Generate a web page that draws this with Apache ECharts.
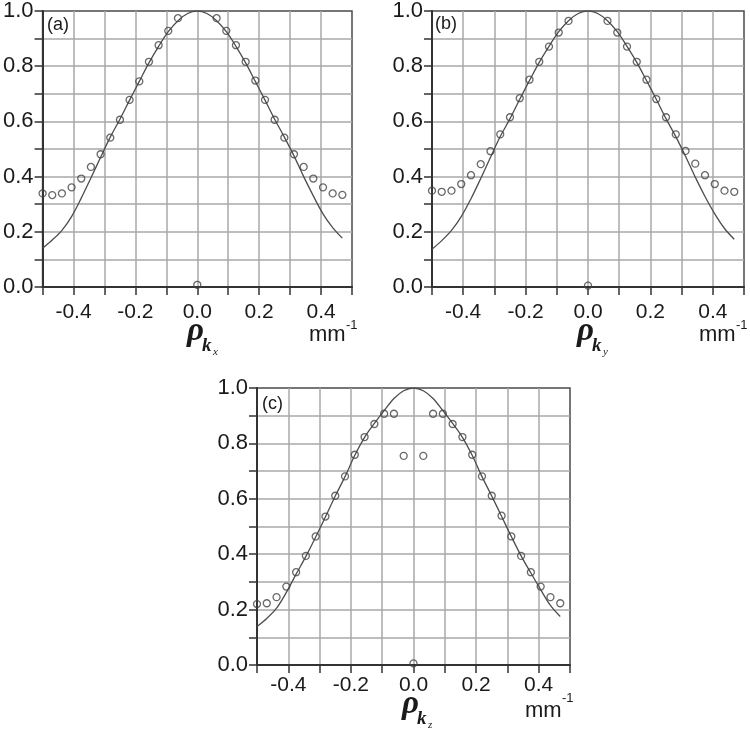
<!DOCTYPE html>
<html><head><meta charset="utf-8">
<script src="https://cdn.jsdelivr.net/npm/echarts@6/dist/echarts.min.js"></script>
<style>html,body{margin:0;padding:0;background:#fff}#c{width:750px;height:729px}</style>
</head><body><div id="c"></div>
<script>
// spatial frequency samples (mm^-1)
const freqs = [-0.5, -0.4688, -0.4375, -0.4063, -0.375, -0.3438, -0.3125, -0.2813, -0.25, -0.2188, -0.1875, -0.1563, -0.125, -0.0938, -0.0625, -0.0313, 0, 0.0313, 0.0625, 0.0938, 0.125, 0.1563, 0.1875, 0.2188, 0.25, 0.2813, 0.3125, 0.3438, 0.375, 0.4063, 0.4375, 0.4688];

// measured points (circles)
const pointsA = [0.339, 0.333, 0.339, 0.361, 0.393, 0.435, 0.481, 0.541, 0.606, 0.678, 0.745, 0.816, 0.876, 0.928, 0.974, null, 0.008, null, 0.974, 0.928, 0.876, 0.816, 0.748, 0.678, 0.606, 0.541, 0.481, 0.435, 0.393, 0.361, 0.339, 0.334];
const pointsB = [0.349, 0.345, 0.349, 0.373, 0.405, 0.445, 0.492, 0.553, 0.615, 0.684, 0.751, 0.816, 0.871, 0.922, 0.964, null, 0.005, null, 0.964, 0.922, 0.871, 0.816, 0.751, 0.681, 0.615, 0.553, 0.493, 0.447, 0.405, 0.373, 0.349, 0.345];
const pointsC = [0.220, 0.223, 0.245, 0.283, 0.335, 0.394, 0.464, 0.536, 0.611, 0.681, 0.759, 0.823, 0.870, 0.907, 0.907, 0.755, 0.006, 0.755, 0.907, 0.907, 0.870, 0.823, 0.759, 0.681, 0.611, 0.539, 0.464, 0.394, 0.335, 0.283, 0.245, 0.223];

// fitted curves (solid line)
const curveA = [0.14, 0.17, 0.205, 0.255, 0.322, 0.395, 0.47, 0.543, 0.608, 0.677, 0.745, 0.812, 0.872, 0.925, 0.965, 0.991, 1.0, 0.991, 0.965, 0.925, 0.872, 0.812, 0.745, 0.677, 0.608, 0.543, 0.475, 0.4, 0.33, 0.265, 0.215, 0.177];
const curveB = [0.137, 0.168, 0.205, 0.255, 0.32, 0.393, 0.47, 0.545, 0.61, 0.68, 0.748, 0.814, 0.872, 0.925, 0.965, 0.991, 1.0, 0.991, 0.965, 0.925, 0.872, 0.814, 0.748, 0.68, 0.61, 0.545, 0.474, 0.398, 0.328, 0.265, 0.212, 0.173];
const curveC = [0.139, 0.168, 0.205, 0.262, 0.328, 0.392, 0.462, 0.535, 0.61, 0.68, 0.757, 0.822, 0.872, 0.918, 0.962, 0.99, 1.0, 0.99, 0.962, 0.918, 0.872, 0.822, 0.757, 0.68, 0.61, 0.537, 0.464, 0.394, 0.332, 0.272, 0.215, 0.175];

// tick labels
const xTickLabels = ['-0.4', '-0.2', '0.0', '0.2', '0.4'];
const yTickLabels = ['0.0', '0.2', '0.4', '0.6', '0.8', '1.0'];
const panelTags = ['(a)', '(b)', '(c)'];
const axisSubs = ['x', 'y', 'z'];

const FONT = '"Liberation Sans", Arial, sans-serif';
const TXT = '#1a1a1a';

function fmt(list) {
  return function (v) {
    const hit = list.find(t => Math.abs(parseFloat(t) - v) < 1e-6);
    return hit || '';
  };
}

const panels = [
  { left: 42, top: 10, width: 310, height: 277, pts: pointsA, curve: curveA, lm: 15 },
  { left: 432, top: 10, width: 312, height: 277, pts: pointsB, curve: curveB, lm: 15 },
  { left: 257, top: 388, width: 313, height: 277, pts: pointsC, curve: curveC, lm: 10 }
];

const grid = [], xAxis = [], yAxis = [], series = [];
panels.forEach((p, i) => {
  grid.push({ left: p.left, top: p.top, width: p.width, height: p.height, show: true,
    borderColor: '#4a4a4a', borderWidth: 1.5, backgroundColor: 'transparent', containLabel: false });
  xAxis.push({
    type: 'value', gridIndex: i, min: -0.5, max: 0.5, interval: 0.1,
    axisLine: { show: true, onZero: false, lineStyle: { color: '#333', width: 2 } },
    axisTick: { show: true, inside: false, length: 8, lineStyle: { color: '#333', width: 1.5 } },
    axisLabel: { show: true, margin: p.lm, formatter: fmt(xTickLabels), color: TXT, fontSize: 21, fontFamily: FONT, showMinLabel: true, showMaxLabel: true },
    splitLine: { show: true, showMinLine: false, showMaxLine: false, lineStyle: { color: '#a9a9a9', width: 1.5 } }
  });
  yAxis.push({
    type: 'value', gridIndex: i, min: 0, max: 1, interval: 0.1,
    axisLine: { show: true, onZero: false, lineStyle: { color: '#333', width: 2 } },
    axisTick: { show: true, inside: false, length: 8, lineStyle: { color: '#333', width: 1.5 } },
    axisLabel: { show: true, margin: 9, formatter: fmt(yTickLabels), color: TXT, fontSize: 22, fontFamily: FONT },
    splitLine: { show: true, showMinLine: false, showMaxLine: false, lineStyle: { color: '#a9a9a9', width: 1.5 } }
  });
  series.push({
    type: 'line', xAxisIndex: i, yAxisIndex: i, smooth: 0.35, showSymbol: false, silent: true,
    data: freqs.map((x, j) => [x, p.curve[j]]),
    lineStyle: { color: '#4d4d4d', width: 1.3 }, z: 3
  });
  series.push({
    type: 'scatter', xAxisIndex: i, yAxisIndex: i, symbol: 'circle', symbolSize: 7, clip: true,
    data: freqs.map((x, j) => [x, p.pts[j]]).filter(d => d[1] !== null),
    itemStyle: { color: 'rgba(0,0,0,0)', borderColor: '#444', borderWidth: 1.3 }, z: 4
  });
});

function t(text, x, y, size, extra) {
  return { type: 'text', x: x, y: y, silent: true, z: 10,
    style: Object.assign({ text: text, fontSize: size, fontFamily: FONT, fill: TXT, align: 'left', verticalAlign: 'middle' }, extra || {}) };
}
const SERIF = '"Liberation Serif", "Times New Roman", serif';
// label offsets per panel: [tagX, tagY, rhoX, rhoY, kX, kY, subX, subY, mmX, mmY, supX, supY]
const lab = [
  [47, 25, 187, 331, 202, 346, 213, 352, 309, 335, 346, 325],
  [435, 24, 577, 331, 592, 346, 603, 352, 699, 335, 736, 325],
  [262, 404, 402, 704, 417, 719, 428, 725, 525, 711, 562, 698]
];
const graphic = [];
lab.forEach((L, i) => {
  graphic.push(t(panelTags[i], L[0], L[1], 18));
  graphic.push(t('ρ', L[2], L[3], 33, { fontFamily: SERIF, fontWeight: 'bold', fontStyle: 'italic' }));
  graphic.push(t('k', L[4], L[5], 19, { fontFamily: SERIF, fontWeight: 'bold', fontStyle: 'italic' }));
  graphic.push(t(axisSubs[i], L[6], L[7], 11, { fontFamily: SERIF, fontStyle: 'italic' }));
  graphic.push(t('mm', L[8], L[9], 22));
  graphic.push(t('-1', L[10], L[11], 13));
});

const chart = echarts.init(document.getElementById('c'), null, { renderer: 'canvas' });
chart.setOption({ animation: false, backgroundColor: '#fff', grid, xAxis, yAxis, series, graphic });
</script></body></html>
